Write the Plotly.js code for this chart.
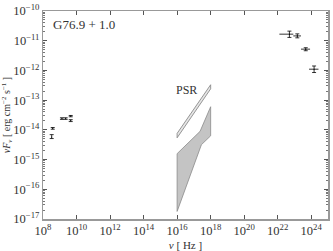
<!DOCTYPE html>
<html><head><meta charset="utf-8">
<script src="https://cdn.plot.ly/plotly-3.0.1.min.js"></script>
<style>html,body{margin:0;padding:0;background:#fff;}#c{width:333px;height:251px;}</style>
</head><body><div id="c"></div>
<script>
// Radio points
const radioNu = [3.3e8, 3.8e8, 1.35e9, 2.25e9, 4.5e9, 4.5e9];
const radioFlux = [5.8e-15, 1.12e-14, 2.4e-14, 2.4e-14, 2.9e-14, 2.05e-14];
const radioFluxHi = [6.9e-15, 1.2e-14, 2.55e-14, 2.55e-14, 3.05e-14, 2.2e-14];
const radioFluxLo = [5.1e-15, 1.05e-14, 2.25e-14, 2.25e-14, 2.75e-14, 1.9e-14];
// Gamma-ray points
const gNu = [5.0e22, 1.48e23, 4.7e23, 1.48e24];
const gNuLo = [1.26e22, 8.5e22, 2.45e23, 7.4e23];
const gNuHi = [8.5e22, 2.45e23, 8.5e23, 2.7e24];
const gFlux = [1.66e-11, 1.45e-11, 5.2e-12, 1.1e-12];
const gFluxLo = [1.29e-11, 1.25e-11, 4.6e-12, 8.5e-13];
const gFluxHi = [2.1e-11, 1.7e-11, 5.8e-12, 1.41e-12];
// X-ray region polygon
const xrNu = [1e16, 2.34e17, 1e18, 1e18, 2.8e17, 1e16, 1e16];
const xrFlux = [1.58e-15, 8.9e-15, 6.0e-14, 6.3e-15, 3.16e-15, 1.8e-17, 1.58e-15];
// PSR band polygon
const psrNu = [1e16, 1e18, 1e18, 1e16, 1e16];
const psrFlux = [5.4e-15, 2.4e-13, 3.3e-13, 7.6e-15, 5.4e-15];
// Texts
const sourceName = "G76.9 + 1.0";
const psrLabel = "PSR";

const sub = (a,b)=>a.map((v,i)=>v-b[i]);

const traces = [
  {x: xrNu, y: xrFlux, mode:'lines', fill:'toself', fillcolor:'#c4c4c4',
   line:{color:'#8a8a8a', width:0.8}, hoverinfo:'skip'},
  {x: psrNu, y: psrFlux, mode:'lines', fill:'toself', fillcolor:'#e6e6e6',
   line:{color:'#8a8a8a', width:0.9}, hoverinfo:'skip'},
  {x: radioNu, y: radioFlux, mode:'markers', marker:{size:1, color:'#000'},
   error_y:{type:'data', symmetric:false, array:sub(radioFluxHi,radioFlux), arrayminus:sub(radioFlux,radioFluxLo), color:'#000', thickness:0.8, width:2}},
  {x: gNu, y: gFlux, mode:'markers', marker:{size:1, color:'#000'},
   error_x:{type:'data', symmetric:false, array:sub(gNuHi,gNu), arrayminus:sub(gNu,gNuLo), color:'#000', thickness:0.8, width:0},
   error_y:{type:'data', symmetric:false, array:sub(gFluxHi,gFlux), arrayminus:sub(gFlux,gFluxLo), color:'#000', thickness:0.8, width:2}}
];

const fontF = 'Liberation Serif';
const layout = {
  width:333, height:251,
  margin:{l:43, r:5, t:11, b:32},
  paper_bgcolor:'#fff', plot_bgcolor:'#fff',
  showlegend:false,
  font:{family:fontF, color:'#333', size:10},
  xaxis:{type:'log', range:[8,25], dtick:2, exponentformat:'power', showgrid:false, zeroline:false,
    ticks:'inside', ticklen:4, tickcolor:'#555', showline:true, linecolor:'#999', linewidth:1.5, mirror:'ticks',
    tickfont:{size:10, family:fontF, color:'#333'},
    title:{text:'<i>ν</i> [ Hz ]', font:{size:11, family:fontF, color:'#333'}, standoff:4}},
  yaxis:{type:'log', range:[-17,-10], dtick:1, exponentformat:'power', showgrid:false, zeroline:false,
    ticks:'inside', ticklen:4, tickcolor:'#555', showline:true, linecolor:'#999', linewidth:1.5, mirror:'ticks',
    minor:{ticks:'inside', ticklen:2, tickcolor:'#777', dtick:'D1', showgrid:false},
    tickfont:{size:10, family:fontF, color:'#333'},
    title:{text:'<i>νF</i><sub><i>ν</i></sub> [ erg cm<sup>−2</sup> s<sup>−1</sup> ]', font:{size:10, family:fontF, color:'#333'}, standoff:3}},
  annotations:[
    {text:sourceName, xref:'paper', yref:'paper', x:0.144, y:0.933, xanchor:'center', yanchor:'middle', showarrow:false,
     font:{size:13, family:fontF, color:'#333'}},
    {text:psrLabel, xref:'paper', yref:'paper', x:0.502, y:0.62, xanchor:'center', yanchor:'middle', showarrow:false,
     font:{size:12, family:fontF, color:'#333'}}
  ]
};
Plotly.newPlot('c', traces, layout, {displayModeBar:false, staticPlot:true});
</script></body></html>
